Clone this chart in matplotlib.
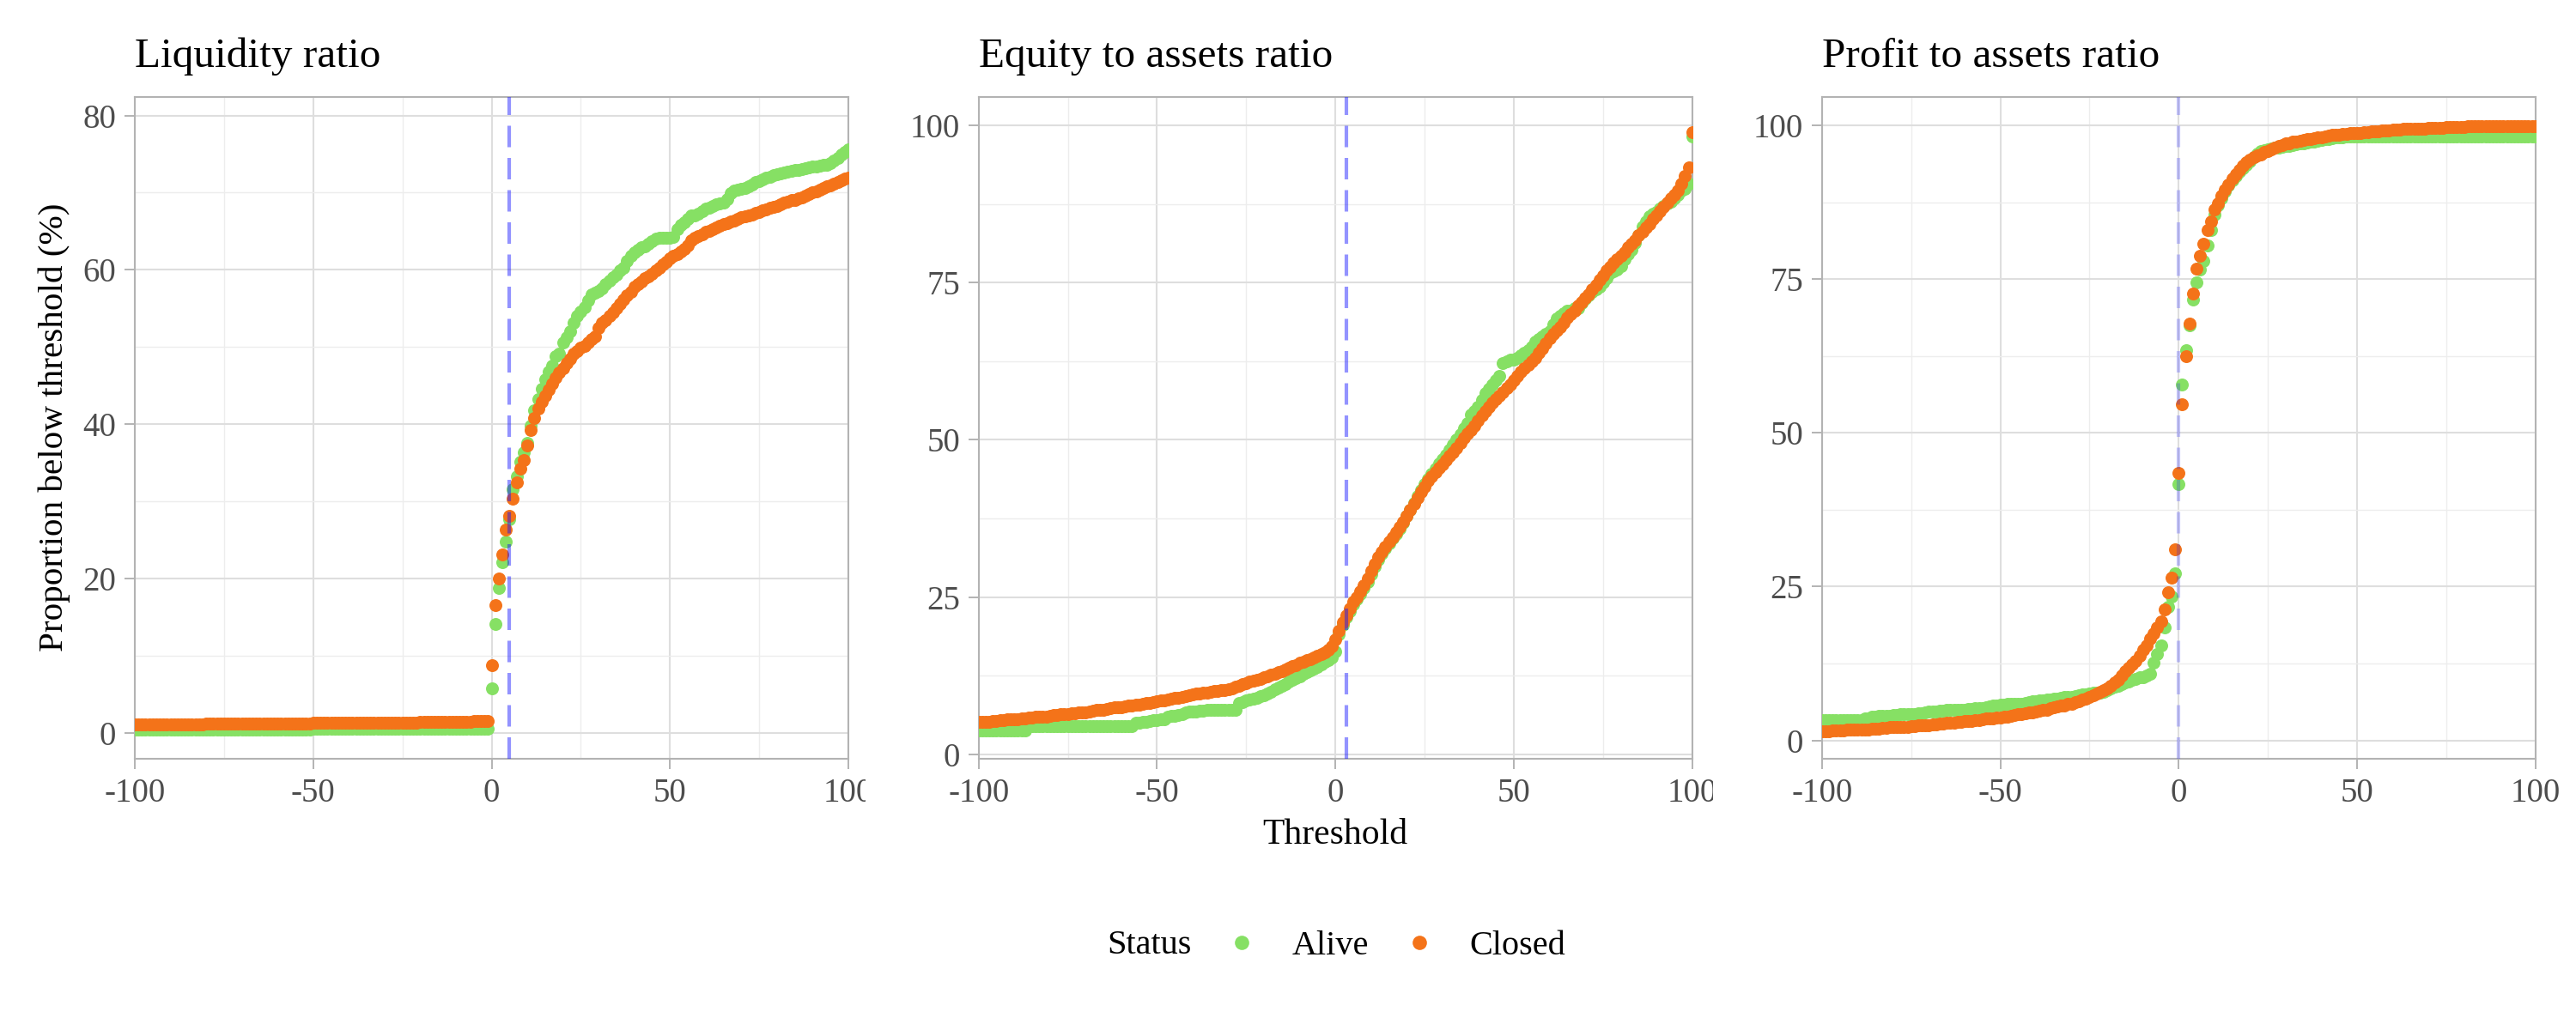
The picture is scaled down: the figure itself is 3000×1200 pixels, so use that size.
import matplotlib
matplotlib.use('Agg')
import matplotlib.pyplot as plt
from matplotlib.lines import Line2D
from matplotlib.transforms import Bbox, TransformedBbox

plt.rcParams['font.family'] = ['Liberation Serif', 'DejaVu Serif']
plt.rcParams['axes.unicode_minus'] = False

# umbrales de -100 a 100, paso 1
umbral = list(range(-100, 101))

# Liquidity ratio
liq_alive = [
    0.4, 0.4, 0.4, 0.4, 0.4, 0.4, 0.4, 0.4, 0.4, 0.4,
    0.4, 0.4, 0.4, 0.4, 0.4, 0.4, 0.4, 0.4, 0.4, 0.4,
    0.4, 0.4, 0.4, 0.4, 0.4, 0.4, 0.4, 0.4, 0.4, 0.4,
    0.4, 0.4, 0.4, 0.4, 0.4, 0.4, 0.4, 0.4, 0.4, 0.4,
    0.4, 0.4, 0.4, 0.4, 0.4, 0.4, 0.4, 0.4, 0.4, 0.4,
    0.5, 0.5, 0.5, 0.5, 0.5, 0.5, 0.5, 0.5, 0.5, 0.5,
    0.5, 0.5, 0.5, 0.5, 0.5, 0.5, 0.5, 0.5, 0.5, 0.5,
    0.5, 0.5, 0.5, 0.5, 0.5, 0.5, 0.5, 0.5, 0.5, 0.5,
    0.5, 0.5, 0.5, 0.5, 0.5, 0.5, 0.5, 0.5, 0.5, 0.5,
    0.5, 0.5, 0.5, 0.5, 0.5, 0.5, 0.5, 0.5, 0.5, 0.5,
    5.8, 14.1, 18.8, 22.1, 24.8, 27.7, 31.6, 33.2, 35.1, 36.4,
    37.6, 39.8, 41.8, 43.2, 44.6, 45.8, 46.8, 47.6, 48.8, 49.2,
    50.6, 51.3, 52.0, 53.2, 54.0, 54.6, 55.1, 56.0, 56.8, 57.0,
    57.3, 57.6, 58.1, 58.6, 59.0, 59.4, 59.9, 60.3, 61.2, 61.8,
    62.3, 62.6, 62.9, 63.1, 63.4, 63.7, 64.0, 64.2, 64.2, 64.2,
    64.2, 64.3, 65.3, 65.8, 66.2, 66.6, 67.0, 67.1, 67.3, 67.6,
    67.9, 68.1, 68.3, 68.5, 68.6, 68.7, 69.2, 69.9, 70.3, 70.4,
    70.5, 70.6, 70.8, 71.1, 71.4, 71.5, 71.7, 71.9, 72.1, 72.3,
    72.4, 72.5, 72.6, 72.7, 72.8, 72.9, 73.0, 73.1, 73.2, 73.3,
    73.4, 73.4, 73.5, 73.6, 73.6, 73.8, 74.2, 74.5, 74.9, 75.3,
    75.6]
liq_closed = [
    1.1, 1.1, 1.1, 1.1, 1.1, 1.1, 1.1, 1.1, 1.1, 1.1,
    1.1, 1.1, 1.1, 1.1, 1.1, 1.1, 1.1, 1.1, 1.1, 1.1,
    1.2, 1.2, 1.2, 1.2, 1.2, 1.2, 1.2, 1.2, 1.2, 1.2,
    1.2, 1.2, 1.2, 1.2, 1.2, 1.2, 1.2, 1.2, 1.2, 1.2,
    1.2, 1.2, 1.2, 1.2, 1.2, 1.2, 1.2, 1.2, 1.2, 1.2,
    1.3, 1.3, 1.3, 1.3, 1.3, 1.3, 1.3, 1.3, 1.3, 1.3,
    1.3, 1.3, 1.3, 1.3, 1.3, 1.3, 1.3, 1.3, 1.3, 1.3,
    1.3, 1.3, 1.3, 1.3, 1.3, 1.3, 1.3, 1.3, 1.3, 1.3,
    1.4, 1.4, 1.4, 1.4, 1.4, 1.4, 1.4, 1.4, 1.4, 1.4,
    1.4, 1.4, 1.4, 1.4, 1.4, 1.5, 1.5, 1.5, 1.5, 1.5,
    8.8, 16.6, 20.0, 23.1, 26.3, 28.1, 30.4, 32.5, 34.2, 35.3,
    37.2, 39.2, 40.8, 42.0, 42.9, 43.7, 44.5, 45.3, 46.0, 46.7,
    47.3, 47.9, 48.5, 49.1, 49.5, 49.9, 50.2, 50.6, 51.0, 51.4,
    52.5, 53.1, 53.5, 54.0, 54.5, 55.0, 55.6, 56.2, 56.7, 57.2,
    57.8, 58.2, 58.5, 58.9, 59.2, 59.5, 59.9, 60.3, 60.7, 61.1,
    61.5, 61.8, 62.1, 62.4, 62.7, 63.2, 63.8, 64.2, 64.4, 64.6,
    64.9, 65.1, 65.3, 65.5, 65.7, 65.9, 66.1, 66.3, 66.4, 66.6,
    66.8, 66.9, 67.1, 67.2, 67.4, 67.5, 67.7, 67.8, 68.0, 68.2,
    68.3, 68.5, 68.7, 68.8, 69.0, 69.1, 69.3, 69.4, 69.6, 69.8,
    70.0, 70.2, 70.4, 70.6, 70.8, 71.0, 71.2, 71.4, 71.6, 71.8,
    72.0]

# Equity to assets ratio
eq_alive = [
    3.7, 3.7, 3.7, 3.7, 3.7, 3.7, 3.7, 3.7, 3.7, 3.7,
    3.7, 3.7, 3.7, 3.7, 4.5, 4.5, 4.5, 4.5, 4.5, 4.5,
    4.5, 4.5, 4.5, 4.5, 4.5, 4.5, 4.5, 4.5, 4.5, 4.5,
    4.5, 4.5, 4.5, 4.5, 4.5, 4.5, 4.5, 4.5, 4.5, 4.5,
    4.5, 4.5, 4.5, 4.5, 5.0, 5.0, 5.1, 5.2, 5.3, 5.4,
    5.4, 5.5, 5.6, 5.9, 6.1, 6.1, 6.2, 6.4, 6.6, 6.8,
    6.8, 6.8, 6.9, 6.9, 7.0, 7.0, 7.0, 7.1, 7.1, 7.1,
    7.1, 7.1, 7.1, 8.2, 8.3, 8.5, 8.7, 8.8, 9.0, 9.2,
    9.4, 9.6, 9.9, 10.3, 10.6, 10.9, 11.2, 11.5, 11.8, 12.1,
    12.4, 12.8, 13.0, 13.3, 13.6, 13.9, 14.3, 14.7, 15.0, 15.4,
    16.3, 19.0, 20.6, 21.8, 22.8, 23.8, 24.6, 25.5, 26.4, 27.4,
    28.6, 29.8, 31.0, 31.9, 32.7, 33.5, 34.3, 35.1, 35.9, 36.8,
    37.9, 38.8, 39.9, 41.1, 42.0, 42.9, 43.8, 44.6, 45.4, 46.2,
    46.9, 47.6, 48.4, 49.2, 50.0, 50.9, 51.8, 52.7, 54.0, 54.6,
    55.3, 56.4, 57.4, 58.1, 58.8, 59.5, 60.1, 62.2, 62.5, 62.7,
    62.8, 63.0, 63.4, 63.9, 64.3, 64.8, 65.6, 66.0, 66.4, 66.9,
    67.3, 68.4, 69.3, 69.7, 70.2, 70.5, 70.6, 70.9, 71.0, 71.8,
    72.5, 73.0, 73.5, 74.0, 74.4, 75.0, 75.8, 76.5, 76.8, 77.1,
    77.6, 78.8, 79.5, 80.3, 81.3, 82.6, 83.9, 84.8, 85.5, 86.0,
    86.3, 86.8, 87.2, 87.6, 87.9, 88.4, 89.0, 89.6, 90.0, 90.7,
    98.2]
eq_closed = [
    5.1, 5.1, 5.2, 5.2, 5.3, 5.3, 5.4, 5.4, 5.5, 5.5,
    5.6, 5.6, 5.7, 5.7, 5.8, 5.8, 5.9, 5.9, 6.0, 6.0,
    6.1, 6.2, 6.2, 6.3, 6.3, 6.4, 6.5, 6.5, 6.6, 6.6,
    6.7, 6.8, 6.9, 7.0, 7.0, 7.1, 7.2, 7.3, 7.4, 7.4,
    7.5, 7.6, 7.7, 7.7, 7.8, 7.9, 8.0, 8.1, 8.2, 8.3,
    8.4, 8.5, 8.6, 8.7, 8.8, 8.9, 9.0, 9.1, 9.2, 9.3,
    9.5, 9.6, 9.7, 9.8, 9.8, 9.9, 10.0, 10.1, 10.2, 10.2,
    10.3, 10.5, 10.7, 10.9, 11.1, 11.3, 11.5, 11.7, 11.8, 12.0,
    12.2, 12.4, 12.6, 12.8, 13.0, 13.2, 13.5, 13.7, 14.0, 14.2,
    14.5, 14.7, 14.9, 15.1, 15.4, 15.6, 15.9, 16.2, 16.6, 17.2,
    18.3, 19.6, 21.0, 22.0, 23.2, 24.2, 25.0, 25.9, 26.9, 27.9,
    29.1, 30.2, 31.3, 32.2, 33.0, 33.8, 34.5, 35.3, 36.1, 36.9,
    37.9, 38.8, 39.8, 40.8, 41.7, 42.6, 43.5, 44.2, 44.9, 45.5,
    46.1, 46.8, 47.4, 48.0, 48.7, 49.5, 50.3, 51.0, 51.6, 52.3,
    53.1, 53.9, 54.6, 55.2, 55.9, 56.5, 57.0, 57.6, 58.2, 58.8,
    59.5, 60.2, 60.8, 61.4, 61.9, 62.5, 63.1, 63.8, 64.6, 65.4,
    66.2, 66.9, 67.4, 68.0, 68.7, 69.4, 70.0, 70.6, 71.3, 71.9,
    72.6, 73.2, 73.9, 74.6, 75.4, 76.2, 76.9, 77.5, 78.2, 78.8,
    79.3, 79.9, 80.6, 81.2, 81.8, 82.5, 83.1, 83.8, 84.4, 85.1,
    85.7, 86.4, 87.1, 87.7, 88.4, 89.0, 89.7, 90.7, 92.0, 93.4,
    99.0]

# Profit to assets ratio
prof_alive = [
    3.3, 3.3, 3.3, 3.3, 3.3, 3.3, 3.3, 3.3, 3.3, 3.3,
    3.3, 3.3, 3.6, 3.6, 3.9, 3.9, 4.0, 4.0, 4.0, 4.0,
    4.1, 4.1, 4.2, 4.2, 4.2, 4.2, 4.2, 4.4, 4.4, 4.6,
    4.65, 4.7, 4.7, 4.8, 4.8, 4.9, 4.9, 5.0, 5.0, 5.0,
    5.0, 5.1, 5.1, 5.2, 5.2, 5.3, 5.4, 5.5, 5.6, 5.7,
    5.8, 5.8, 5.9, 5.9, 6.0, 6.0, 6.0, 6.1, 6.2, 6.3,
    6.4, 6.5, 6.5, 6.6, 6.6, 6.7, 6.8, 6.9, 7.0, 7.0,
    7.1, 7.2, 7.3, 7.4, 7.5, 7.6, 7.7, 7.8, 7.8, 7.9,
    8.1, 8.4, 8.7, 8.9, 9.2, 9.4, 9.6, 9.8, 10.0, 10.2,
    10.3, 10.5, 10.8, 12.6, 14.0, 15.4, 18.3, 21.7, 23.4, 27.2,
    41.7, 57.8, 63.4, 67.5, 71.7, 74.5, 76.5, 78.0, 80.5, 83.0,
    85.5, 87.0, 88.2, 89.3, 90.2, 91.0, 91.8, 92.4, 93.0, 93.6,
    94.2, 94.8, 95.4, 95.8, 96.0, 96.1, 96.2, 96.3, 96.4, 96.5,
    96.6, 96.7, 96.8, 96.9, 97.0, 97.1, 97.2, 97.3, 97.4, 97.5,
    97.6, 97.7, 97.8, 97.9, 98.0, 98.1, 98.1, 98.2, 98.2, 98.2,
    98.2, 98.2, 98.2, 98.2, 98.2, 98.2, 98.2, 98.2, 98.2, 98.2,
    98.2, 98.2, 98.2, 98.2, 98.2, 98.2, 98.2, 98.2, 98.2, 98.2,
    98.2, 98.2, 98.2, 98.2, 98.2, 98.2, 98.2, 98.2, 98.2, 98.2,
    98.2, 98.2, 98.2, 98.2, 98.2, 98.2, 98.2, 98.2, 98.2, 98.2,
    98.2, 98.2, 98.2, 98.2, 98.2, 98.2, 98.2, 98.2, 98.2, 98.2,
    98.2]
prof_closed = [
    1.5, 1.5, 1.5, 1.6, 1.6, 1.6, 1.6, 1.7, 1.7, 1.7,
    1.7, 1.8, 1.8, 1.8, 1.9, 1.9, 1.9, 2.0, 2.0, 2.1,
    2.1, 2.1, 2.2, 2.2, 2.2, 2.3, 2.3, 2.4, 2.4, 2.5,
    2.5, 2.6, 2.6, 2.7, 2.7, 2.8, 2.9, 2.9, 3.0, 3.0,
    3.1, 3.1, 3.2, 3.3, 3.3, 3.4, 3.5, 3.5, 3.6, 3.7,
    3.75, 3.8, 3.9, 4.0, 4.1, 4.2, 4.3, 4.4, 4.5, 4.6,
    4.65, 4.8, 4.9, 5.0, 5.2, 5.35, 5.5, 5.6, 5.7, 5.9,
    6.0, 6.2, 6.4, 6.6, 6.8, 7.1, 7.3, 7.6, 7.9, 8.2,
    8.5, 8.9, 9.4, 9.9, 10.5, 11.3, 11.8, 12.4, 12.9, 13.7,
    14.7, 15.4, 16.5, 17.4, 18.3, 19.3, 21.3, 24.1, 26.4, 31.0,
    43.5, 54.6, 62.5, 67.8, 72.6, 76.7, 78.8, 80.8, 83.0, 84.4,
    86.3, 87.3, 88.5, 89.5, 90.4, 91.3, 92.0, 92.8, 93.5, 94.0,
    94.4, 94.8, 95.1, 95.3, 95.6, 95.8, 96.1, 96.4, 96.6, 96.8,
    97.0, 97.1, 97.3, 97.4, 97.5, 97.6, 97.7, 97.8, 97.9, 98.0,
    98.1, 98.2, 98.3, 98.4, 98.5, 98.5, 98.6, 98.6, 98.7, 98.7,
    98.8, 98.8, 98.9, 98.9, 99.0, 99.0, 99.0, 99.1, 99.1, 99.2,
    99.3, 99.3, 99.3, 99.4, 99.4, 99.4, 99.5, 99.5, 99.5, 99.5,
    99.6, 99.6, 99.6, 99.6, 99.6, 99.7, 99.7, 99.7, 99.7, 99.7,
    99.7, 99.8, 99.8, 99.8, 99.8, 99.8, 99.8, 99.8, 99.8, 99.8,
    99.8, 99.8, 99.8, 99.8, 99.8, 99.8, 99.8, 99.8, 99.8, 99.8,
    99.8]

titulos = ['Liquidity ratio', 'Equity to assets ratio', 'Profit to assets ratio']
vivos = [liq_alive, eq_alive, prof_alive]
cerrados = [liq_closed, eq_closed, prof_closed]
corte = [5, 3, 0]                 # linea vertical punteada
yticks = [[0, 20, 40, 60, 80], [0, 25, 50, 75, 100], [0, 25, 50, 75, 100]]
ylims = [(-3.35, 82.4), (-0.74, 104.55), (-3.0, 104.6)]
xticks = [-100, -50, 0, 50, 100]
xtick_labels = ['-100', '-50', '0', '50', '100']

verde = '#86E064'
naranja = '#F47319'
gris_texto = '#4D4D4D'
gris_borde = '#B3B3B3'

fig = plt.figure(figsize=(30, 12), dpi=100)
W, H = 3000, 1200
lefts = [157, 1139.7, 2121.8]
ax_w = 831
ax_bottom = 884
ax_top = 113

axes = []
for k in range(3):
    ax = fig.add_axes([lefts[k] / W, 1 - ax_bottom / H, ax_w / W, (ax_bottom - ax_top) / H])
    axes.append(ax)
    ax.plot(umbral, vivos[k], ls='none', marker='o', ms=10.8, mew=0, color=verde, zorder=3)
    ax.plot(umbral, cerrados[k], ls='none', marker='o', ms=10.8, mew=0, color=naranja, zorder=4)
    alfa = 0.45 if k < 2 else 0.22
    ax.axvline(corte[k], color='#1010FF', alpha=alfa, lw=3.0, ls=(0, (6, 3)), zorder=5)

    ax.set_xlim(-100, 100)
    ax.set_ylim(*ylims[k])
    ax.set_xticks(xticks)
    ax.set_xticklabels(xtick_labels)
    ax.set_yticks(yticks[k])
    ax.set_yticklabels([str(v) for v in yticks[k]])
    ax.set_xticks([-75, -25, 25, 75], minor=True)
    yt = yticks[k]
    ax.set_yticks([(yt[i] + yt[i + 1]) / 2 for i in range(len(yt) - 1)], minor=True)
    ax.tick_params(which='major', length=8.6, width=1.4, color=gris_borde, pad=7,
                   labelsize=28, labelcolor=gris_texto)
    ax.tick_params(which='minor', length=0)
    ax.grid(which='major', color='#DEDEDE', lw=1.5)
    ax.grid(which='minor', color='#EDEDED', lw=1.0)
    ax.set_axisbelow(True)
    for s in ax.spines.values():
        s.set_color(gris_borde)
        s.set_linewidth(1.5)
    fig.text(lefts[k] / W, 1 - 78 / H, titulos[k], fontsize=35.5, color='black',
             ha='left', va='baseline')

fig.text(1555 / W, 1 - 983 / H, 'Threshold', fontsize=30, ha='center', va='baseline')
fig.text(63 / W, 1 - 498 / H, 'Proportion below threshold (%)', fontsize=29.6,
         rotation=90, ha='center', va='center')

# leyenda
fig.text(1289 / W, 1 - 1097 / H, 'Status', fontsize=29, ha='left', va='center_baseline')
handles = [Line2D([], [], ls='none', marker='o', ms=12, mew=0, color=verde),
           Line2D([], [], ls='none', marker='o', ms=12, mew=0, color=naranja)]
fig.legend(handles, ['Alive', 'Closed'], ncol=2, frameon=False, fontsize=29,
           loc='center left', bbox_to_anchor=(1426 / W, 1 - 1102 / H),
           borderpad=0, borderaxespad=0, handlelength=1.0, handletextpad=0.94,
           columnspacing=0.98)

# el "100" de los dos primeros paneles queda cortado como en el original
fig.canvas.draw()
for k, cut in [(0, 1008), (1, 1995)]:
    caja = TransformedBbox(Bbox([[0, 0], [cut / W, 1]]), fig.transFigure)
    for lbl in axes[k].get_xticklabels():
        lbl.set_clip_on(True)
        lbl.set_clip_box(caja)

fig.savefig('out.png', dpi=100)
